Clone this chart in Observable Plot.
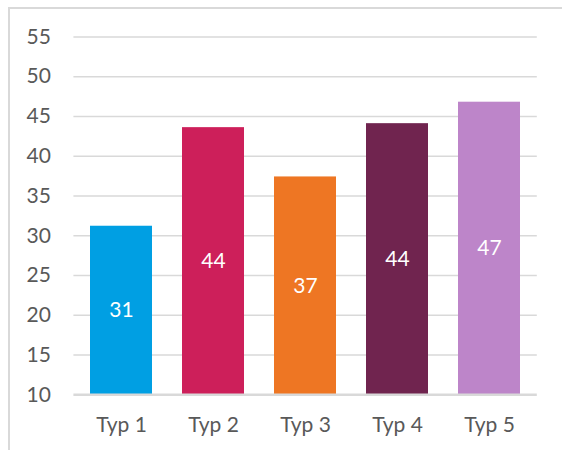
<!DOCTYPE html>
<html>
<head>
<meta charset="utf-8">
<script src="https://cdn.jsdelivr.net/npm/d3@7"></script>
<script src="https://cdn.jsdelivr.net/npm/@observablehq/plot@0.6"></script>
<style>
  html, body { margin: 0; padding: 0; background: #fff; width: 562px; height: 450px; overflow: hidden; }
  #frame { position: absolute; left: 8px; top: 7px; width: 700px; height: 600px;
           border-left: 2px solid #D9D9D9; border-top: 2px solid #D9D9D9; box-sizing: border-box; }
  #chart { position: absolute; left: 0; top: 0; }
</style>
</head>
<body>
<div id="frame"></div>
<div id="chart"></div>
<script>
const categories = ["Typ 1", "Typ 2", "Typ 3", "Typ 4", "Typ 5"];
const values = [31.2, 43.6, 37.4, 44.1, 46.8];
const colors = ["#009FE3", "#CD1F5A", "#EE7623", "#70244F", "#BD85C9"];
const yTicks = [10, 15, 20, 25, 30, 35, 40, 45, 50, 55];
const axisMin = 10;

const data = categories.map((c, i) => ({cat: c, value: values[i], color: colors[i]}));

const chart = Plot.plot({
  width: 562,
  height: 450,
  marginLeft: 73.4,
  marginRight: 25.2,
  marginTop: 36.5,
  marginBottom: 55.7,
  style: {fontFamily: "Lato, 'Open Sans', sans-serif", fontSize: "21px", color: "#595959", background: "transparent"},
  x: {domain: categories, paddingInner: 0.33, paddingOuter: 0.168, label: null},
  y: {domain: [axisMin, 55], label: null},
  marks: [
    Plot.ruleY(yTicks.filter(t => t !== axisMin), {stroke: "#D9D9D9", strokeWidth: 1.5}),
    Plot.barY(data, {x: "cat", y1: axisMin, y2: "value", fill: "color"}),
    Plot.ruleY([axisMin], {stroke: "#D9D9D9", strokeWidth: 2.5}),
    Plot.text(data, {x: "cat", y: d => (axisMin + d.value) / 2, text: d => d3.format(".0f")(d.value),
      fill: "white", fontSize: 21}),
    Plot.axisY({ticks: yTicks, tickSize: 0, tickPadding: 23, label: null, fontSize: 21}),
    Plot.axisX({tickSize: 0, tickPadding: 22, label: null, fontSize: 21})
  ]
});
document.getElementById("chart").appendChild(chart);
</script>
</body>
</html>
